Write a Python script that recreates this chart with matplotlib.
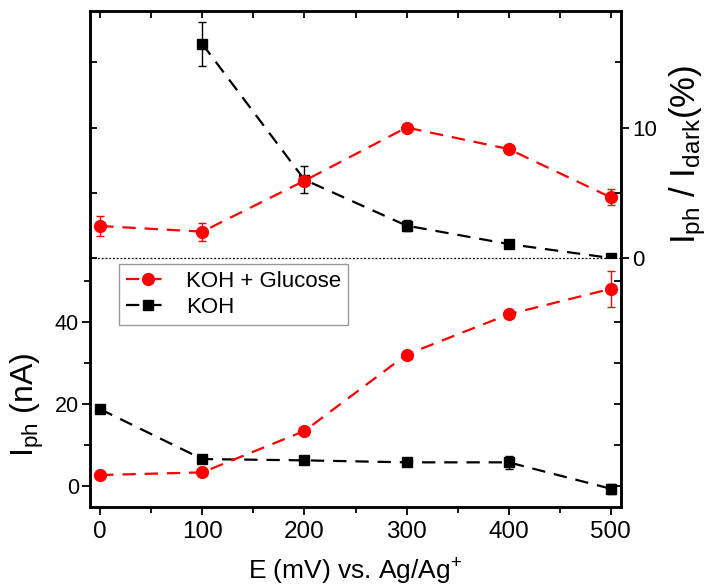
import matplotlib
matplotlib.use("Agg")
import matplotlib.pyplot as plt
import numpy as np
from matplotlib.lines import Line2D
from matplotlib.ticker import MultipleLocator

plt.rcParams["font.family"] = ["Liberation Sans", "DejaVu Sans"]
plt.rcParams["mathtext.fontset"] = "custom"
plt.rcParams["mathtext.rm"] = "Liberation Sans"
plt.rcParams["mathtext.it"] = "Liberation Sans"
plt.rcParams["mathtext.default"] = "regular"

# potential (mV vs Ag/Ag+)
potential = [0, 100, 200, 300, 400, 500]

# photocurrent ratio I_ph / I_dark (%)
ratio_glucose = [2.45, 2.02, 5.92, 10.0, 8.35, 4.65]
ratio_glucose_err = [0.77, 0.69, 0.4, 0.15, 0.15, 0.6]
ratio_koh = [np.nan, 16.4, 6.0, 2.48, 1.07, 0.0]
ratio_koh_err = [np.nan, 1.68, 1.05, 0.4, 0.25, 0.1]

# photocurrent I_ph (nA)
iph_glucose = [2.68, 3.33, 13.4, 32.0, 41.8, 48.0]
iph_glucose_err = [0.3, 0.9, 0.5, 0.5, 0.5, 4.4]
iph_koh = [18.7, 6.57, 6.25, 5.77, 5.77, -0.65]
iph_koh_err = [0.3, 0.3, 0.3, 0.3, 1.6, 1.2]

labels = ["KOH + Glucose", "KOH"]

RED = "#ff0000"
BLACK = "#000000"
DASH = (0, (6, 4))

fig = plt.figure(figsize=(7.07, 5.87), dpi=100)
left, right = 90 / 707, 621 / 707
y_bot, y_mid, y_top = 80 / 587, 329 / 587, 576 / 587
ax_b = fig.add_axes([left, y_bot, right - left, y_mid - y_bot])
ax_t = fig.add_axes([left, y_mid, right - left, y_top - y_mid], sharex=ax_b)
ax_tr = ax_t.twinx()
ax_br = ax_b.twinx()


def series(ax, y, err, color, marker, ms):
    ax.errorbar(potential, y, yerr=err, color=color, marker=marker,
                markersize=ms, linestyle=DASH, linewidth=1.6,
                elinewidth=1.0, capsize=3, capthick=1.0)


# top panel: ratio
series(ax_t, ratio_koh, ratio_koh_err, BLACK, "s", 6.5)
series(ax_t, ratio_glucose, ratio_glucose_err, RED, "o", 8.5)
ax_t.axhline(0, color="black", linestyle=(0, (1.5, 1.5)), linewidth=0.9,
             clip_on=False)
ax_t.set_ylim(0, 18.93)
ax_tr.set_ylim(0, 18.93)

# bottom panel: photocurrent
series(ax_b, iph_koh, iph_koh_err, BLACK, "s", 6.5)
series(ax_b, iph_glucose, iph_glucose_err, RED, "o", 8.5)
ax_b.set_ylim(-5.1, 55.5)
ax_br.set_ylim(-5.1, 55.5)

ax_b.set_xlim(-10, 510)
ax_b.xaxis.set_major_locator(MultipleLocator(100))
ax_b.xaxis.set_minor_locator(MultipleLocator(50))

lw = 1.8
for ax in (ax_t, ax_tr, ax_b, ax_br):
    for s in ax.spines.values():
        s.set_linewidth(lw)
for ax in (ax_t, ax_tr):
    ax.spines["bottom"].set_visible(False)
for ax in (ax_b, ax_br):
    ax.spines["top"].set_visible(False)

# top panel ticks
ax_t.tick_params(axis="x", which="both", bottom=False, top=True,
                 labelbottom=False, direction="in", length=5, width=1.3)
ax_t.yaxis.set_major_locator(MultipleLocator(5))
ax_t.tick_params(axis="y", which="both", left=True, right=False,
                 labelleft=False, direction="in", length=5, width=1.3)
ax_tr.yaxis.set_major_locator(MultipleLocator(10))
ax_tr.yaxis.set_minor_locator(MultipleLocator(5))
ax_tr.tick_params(axis="y", which="major", direction="out", length=6,
                  width=1.3, labelsize=16, pad=2)
ax_tr.tick_params(axis="y", which="minor", direction="in", length=4,
                  width=1.3)

# bottom panel ticks
ax_b.tick_params(axis="x", which="major", direction="out", length=6,
                 width=1.3, labelsize=17.5, pad=4)
ax_b.tick_params(axis="x", which="minor", direction="out", length=4,
                 width=1.3)
ax_b.yaxis.set_major_locator(MultipleLocator(20))
ax_b.yaxis.set_minor_locator(MultipleLocator(10))
ax_b.tick_params(axis="y", which="major", direction="out", length=6,
                 width=1.3, labelsize=15.5, pad=2)
ax_b.tick_params(axis="y", which="minor", direction="out", length=4,
                 width=1.3)
ax_br.yaxis.set_major_locator(MultipleLocator(10))
ax_br.tick_params(axis="y", which="both", direction="in", length=5,
                  width=1.3, labelright=False)

ax_b.set_xlabel("E (mV) vs. Ag/Ag$^{+}$", fontsize=19, labelpad=10)
ax_b.set_ylabel("I$_{ph}$ (nA)", fontsize=23)
ax_b.yaxis.set_label_coords(-0.082, 0.41)
ax_tr.set_ylabel("I$_{ph}$ / I$_{dark}$(%)", fontsize=25, rotation=90)
ax_tr.yaxis.set_label_coords(1.087, 0.42)

handles = [
    Line2D([], [], color=RED, marker="o", markersize=8.5, linestyle=DASH,
           linewidth=1.6),
    Line2D([], [], color=BLACK, marker="s", markersize=6.5, linestyle=DASH,
           linewidth=1.6),
]
leg = ax_b.legend(handles, labels, loc="upper left",
                  bbox_to_anchor=(0.055, 0.976), borderaxespad=0,
                  fontsize=16, frameon=True,
                  fancybox=False, edgecolor="#999999", framealpha=1,
                  handlelength=2.0, handletextpad=0.7, borderpad=0.3,
                  labelspacing=0.25)
leg.get_frame().set_linewidth(1.0)

fig.savefig("out.png", dpi=100)
